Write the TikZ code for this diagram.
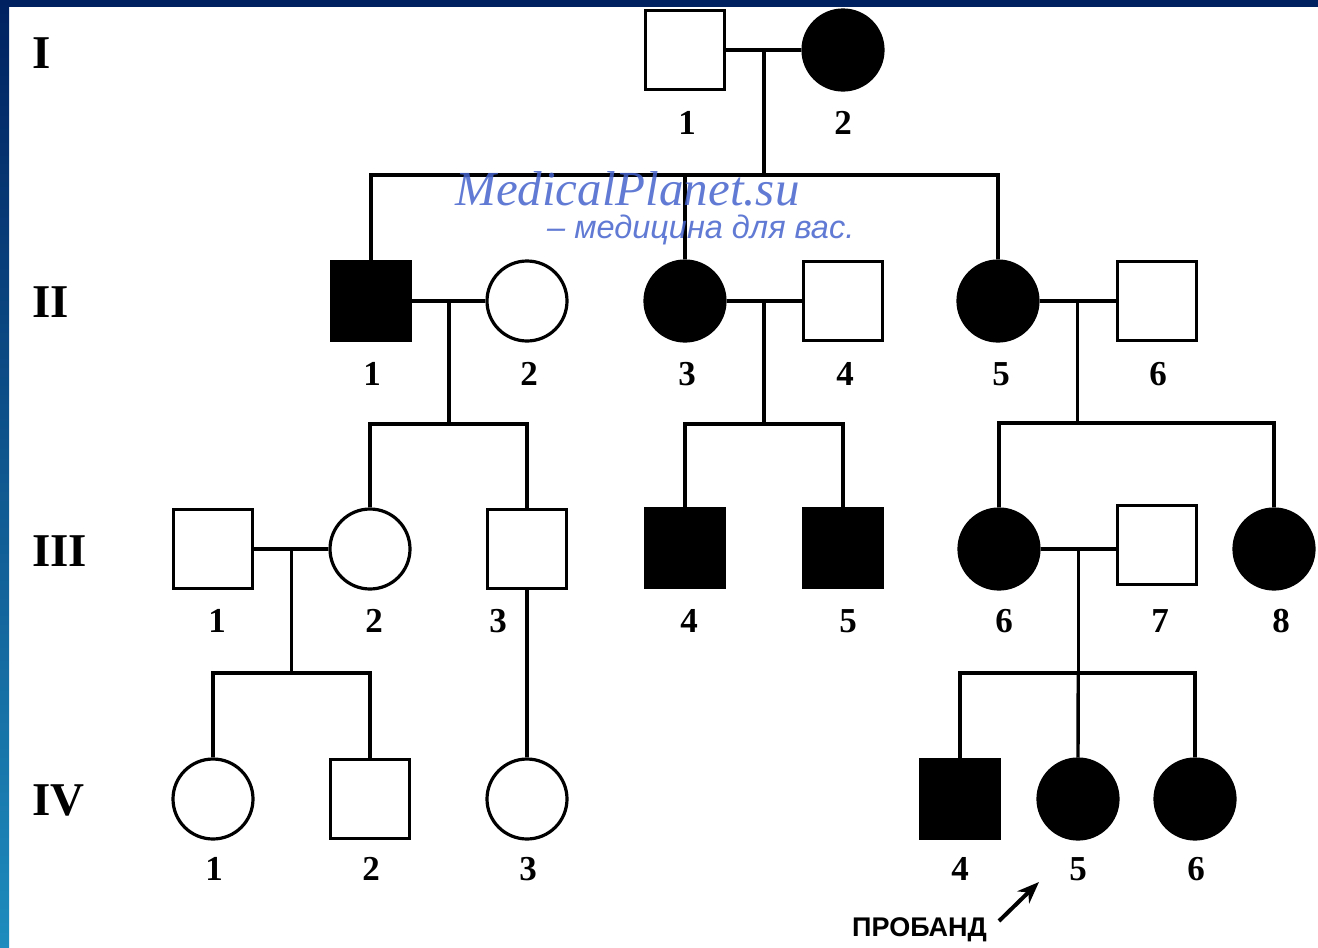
\documentclass[tikz,border=0pt]{standalone}
\usepackage{fontspec}
\setmainfont{Liberation Serif}
\newfontfamily\sansf{Liberation Sans}
\usetikzlibrary{arrows.meta,calc}
\definecolor{navy}{RGB}{0,33,96}
\definecolor{midblue}{RGB}{0,50,145}
\definecolor{tealb}{RGB}{30,140,190}
\definecolor{wm}{RGB}{70,100,205}
\begin{document}
\begin{tikzpicture}[x=1pt,y=-1pt,
  ind/.style={draw=black, line width=3.2pt, inner sep=0pt, fill=white},
  male/.style={ind, rectangle, minimum size=79pt},
  female/.style={ind, circle, minimum size=80pt},
  aff/.style={fill=black},
  lnk/.style={line width=3.4pt, draw=black},
  num/.style={font=\fontsize{35}{35}\selectfont\bfseries, inner sep=0pt},
  gen/.style={font=\fontsize{47}{47}\selectfont\bfseries, inner sep=0pt, anchor=west},
  wmserif/.style={anchor=base west, inner sep=0pt, text=wm, opacity=.85, font=\fontsize{49}{49}\selectfont\itshape},
  wmsans/.style={anchor=base west, inner sep=0pt, text=wm, opacity=.85, font=\sansf\itshape\fontsize{32.5}{32.5}\selectfont},
  probstyle/.style={anchor=west, inner sep=0pt, font=\sansf\bfseries\fontsize{27}{27}\selectfont},
  probarrow/.style={-{Stealth[length=22pt,width=17pt]}, line width=4pt},
]
\useasboundingbox (0,0) rectangle (1318,948);
\fill[white] (0,0) rectangle (1318,948);
\fill[navy] (0,0) rectangle (1318,7);
\shade[top color=navy, middle color=midblue, bottom color=tealb] (0,0) rectangle (9,948);

% generation labels
\node[gen] (gI) at (32,53) {I};
\node[gen] (gII) at (32,302) {II};
\node[gen] (gIII) at (32,551) {III};
\node[gen] (gIV) at (32,800) {IV};

% generation I
\node[male] (I1) at (685,50) {};
\node[female, aff] (I2) at (843,50) {};
% generation II
\node[male, aff] (II1) at (371,301) {};
\node[female] (II2) at (527,301) {};
\node[female, aff] (II3) at (685,301) {};
\node[male] (II4) at (843,301) {};
\node[female, aff] (II5) at (998,301) {};
\node[male] (II6) at (1157,301) {};
% generation III
\node[male] (III1) at (213,549) {};
\node[female] (III2) at (370,549) {};
\node[male] (III3) at (527,549) {};
\node[male, aff] (III4) at (685,548) {};
\node[male, aff] (III5) at (843,548) {};
\node[female, aff] (III6) at (999,549) {};
\node[male] (III7) at (1157,545) {};
\node[female, aff] (III8) at (1274,549) {};
% generation IV
\node[female] (IV1) at (213,799) {};
\node[male] (IV2) at (370,799) {};
\node[female] (IV3) at (527,799) {};
\node[male, aff] (IV4) at (960,799) {};
\node[female, aff] (IV5) at (1078,799) {};
\node[female, aff] (IV6) at (1195,799) {};

% numbers
\node[num] (nI1) at (687,123) {1};
\node[num] (nI2) at (843,123) {2};
\node[num] (nII1) at (372,374) {1};
\node[num] (nII2) at (529,374) {2};
\node[num] (nII3) at (687,374) {3};
\node[num] (nII4) at (845,374) {4};
\node[num] (nII5) at (1001,374) {5};
\node[num] (nII6) at (1158,374) {6};
\node[num] (nIII1) at (217,621) {1};
\node[num] (nIII2) at (374,621) {2};
\node[num] (nIII3) at (498,621) {3};
\node[num] (nIII4) at (689,621) {4};
\node[num] (nIII5) at (848,621) {5};
\node[num] (nIII6) at (1004,621) {6};
\node[num] (nIII7) at (1160,621) {7};
\node[num] (nIII8) at (1281,621) {8};
\node[num] (nIV1) at (214,869) {1};
\node[num] (nIV2) at (371,869) {2};
\node[num] (nIV3) at (528,869) {3};
\node[num] (nIV4) at (960,869) {4};
\node[num] (nIV5) at (1078,869) {5};
\node[num] (nIV6) at (1196,869) {6};

% family I
\draw[lnk] (I1) -- (I2);
\coordinate (d1) at ($(I1)!0.5!(I2)$);
\coordinate (s1) at ($(d1)+(0,125)$);
\draw[lnk] (d1) -- (s1);
\draw[lnk] (II1.north) |- (s1) -| (II5.north);
\draw[lnk] (II3.north) -- (II3.north |- s1);

% family II1-II2
\draw[lnk] (II1) -- (II2);
\coordinate (d2) at ($(II1)!0.5!(II2)$);
\coordinate (s2) at ($(d2)+(0,123)$);
\draw[lnk] (d2) -- (s2);
\draw[lnk] (III2.north) |- (s2) -| (III3.north);

% family II3-II4
\draw[lnk] (II3) -- (II4);
\coordinate (d3) at ($(II3)!0.5!(II4)$);
\coordinate (s3) at ($(d3)+(0,123)$);
\draw[lnk] (d3) -- (s3);
\draw[lnk] (III4.north) |- (s3) -| (III5.north);

% family II5-II6
\draw[lnk] (II5) -- (II6);
\coordinate (d4) at ($(II5)!0.5!(II6)$);
\coordinate (s4) at ($(d4)+(0,122)$);
\draw[lnk] (d4) -- (s4);
\draw[lnk] (III6.north) |- (s4) -| (III8.north);

% family III1-III2
\draw[lnk] (III1) -- (III2);
\coordinate (d5) at ($(III1)!0.5!(III2)$);
\coordinate (s5) at ($(d5)+(0,124)$);
\draw[lnk] (d5) -- (s5);
\draw[lnk] (IV1.north) |- (s5) -| (IV2.north);

% III3 to IV3
\draw[lnk] (III3.south) -- (IV3.north);

% family III6-III7
\coordinate (w7) at (III6.east -| III7.west);
\draw[lnk] (III6.east) -- (w7);
\coordinate (d6) at ($(III6.east)!0.5!(w7)$);
\coordinate (s6) at ($(d6)+(0,124)$);
\draw[lnk] (d6) -- (s6);
\draw[lnk] (IV4.north) |- (s6) -| (IV6.north);
\draw[lnk] (s6) -- (IV5.north);

% proband
\node[probstyle] (prob) at (852,930) {ПРОБАНД};
\coordinate (ptail) at (999,921);
\coordinate (ptip) at (1039,882);
\draw[probarrow] (ptail) -- (ptip);

% watermark
\node[wmserif] (wm1) at (455,205) {MedicalPlanet.su};
\node[wmsans] (wm2) at (547,238) {– медицина для вас.};
\end{tikzpicture}
\end{document}
